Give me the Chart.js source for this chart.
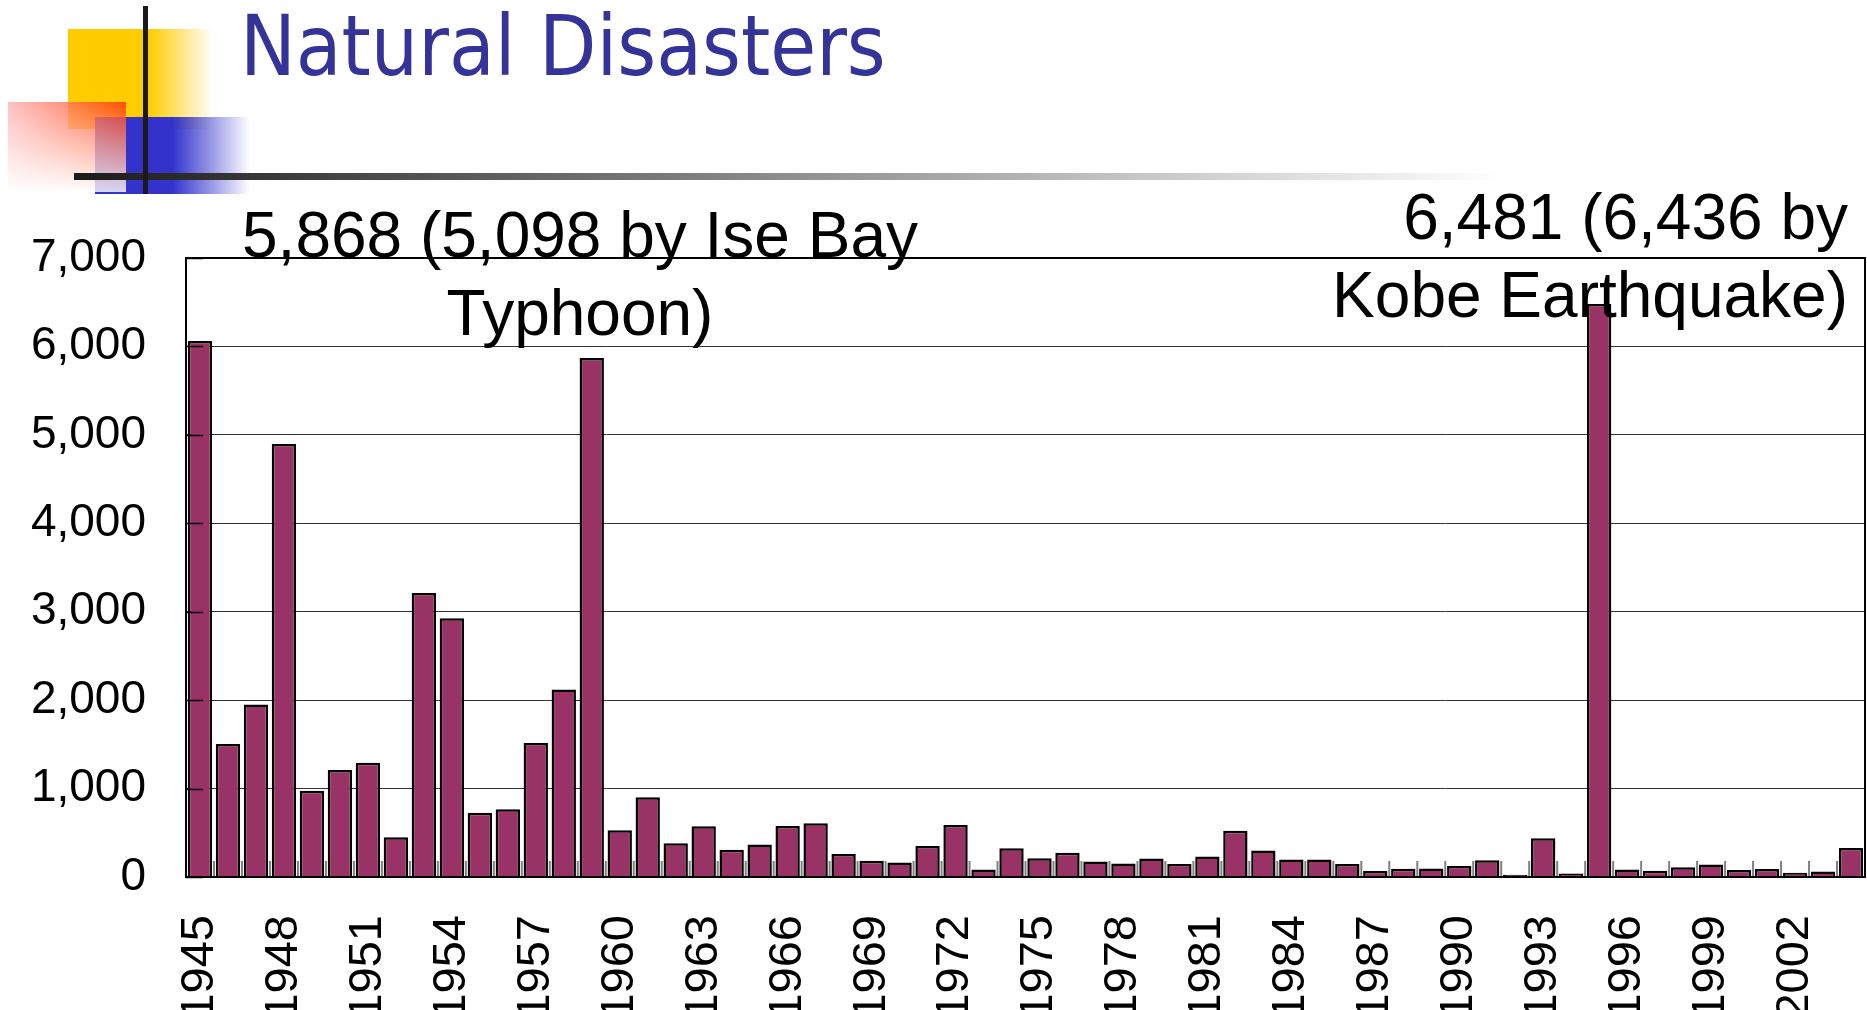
<!DOCTYPE html>
<html>
<head>
<meta charset="utf-8">
<title>Natural Disasters</title>
<script src="https://cdn.jsdelivr.net/npm/chart.js@4.4.1/dist/chart.umd.min.js"></script>
<style>
  html, body { margin: 0; padding: 0; background: #fff; }
  body { width: 1867px; height: 1010px; overflow: hidden; position: relative; }
  #wrap { position: absolute; left: 0; top: 0; width: 1867px; height: 1030px; }
  .deco { position: absolute; }
  #yellow { left: 68px; top: 29px; width: 145px; height: 100px;
    background: linear-gradient(to right, #ffcc00 0%, #ffcc00 56%, rgba(255,204,0,0) 100%); }
  #blue { left: 95px; top: 117px; width: 155px; height: 77px;
    background: linear-gradient(to right, #3333cc 0%, #3333cc 50%, rgba(51,51,204,0) 100%); }
  #red { left: 8px; top: 102px; width: 118px; height: 90px; opacity: 0.8;
    background: linear-gradient(to bottom, rgba(255,255,255,0) 0%, #fff 100%),
                linear-gradient(to right, #ffb4b4 0%, #ff3300 100%); }
  #vline { left: 143px; top: 6px; width: 5px; height: 188px; background: #1a1a1a; }
  #hline { left: 74px; top: 173px; width: 1430px; height: 7px;
    background: linear-gradient(to right, #1a1a1a 0%, #aaaaaa 62%, #ffffff 100%); }
  #title { position: absolute; left: 240px; top: 5px; margin: 0;
    font-family: 'DejaVu Sans Condensed', 'DejaVu Sans', sans-serif; font-stretch: condensed;
    font-weight: normal; font-size: 83px; line-height: 83px; color: #333399; white-space: nowrap; }
  .note { position: absolute; font-family: 'Liberation Sans', Arial, sans-serif;
    font-size: 64px; line-height: 78px; color: #000; white-space: nowrap; }
  #noteLeft { left: 230px; width: 700px; top: 196px; text-align: center; }
  #noteRight { right: 19px; top: 178px; text-align: right; }
</style>
</head>
<body>
<div id="wrap"><canvas id="disasterChart" width="1867" height="1030"></canvas></div>
<div class="deco" id="yellow"></div>
<div class="deco" id="blue"></div>
<div class="deco" id="red"></div>
<div class="deco" id="hline"></div>
<div class="deco" id="vline"></div>
<h1 id="title">Natural Disasters</h1>
<div class="note" id="noteLeft"></div>
<div class="note" id="noteRight"></div>
<script>
'use strict';

// Years on the x axis (one bar per year)
const years = [
    1945, 1946, 1947, 1948, 1949, 1950, 1951, 1952, 1953, 1954,
    1955, 1956, 1957, 1958, 1959, 1960, 1961, 1962, 1963, 1964,
    1965, 1966, 1967, 1968, 1969, 1970, 1971, 1972, 1973, 1974,
    1975, 1976, 1977, 1978, 1979, 1980, 1981, 1982, 1983, 1984,
    1985, 1986, 1987, 1988, 1989, 1990, 1991, 1992, 1993, 1994,
    1995, 1996, 1997, 1998, 1999, 2000, 2001, 2002, 2003, 2004
];

// Dead and missing per year
const deaths = [
    6062, 1504, 1950, 4897, 975, 1210, 1291, 449, 3212, 2926,
    727, 765, 1515, 2120, 5868, 528, 902, 381, 575, 307,
    367, 578, 607, 259, 183, 163, 350, 587, 85, 324,
    213, 273, 174, 153, 208, 148, 232, 524, 301, 199,
    199, 148, 69, 93, 96, 123, 190, 25, 438, 39,
    6481, 84, 71, 109, 141, 78, 90, 48, 62, 327
];

// Only every third year gets a label
const labelledYears = [1945, 1948, 1951, 1954, 1957, 1960, 1963, 1966, 1969, 1972,
    1975, 1978, 1981, 1984, 1987, 1990, 1993, 1996, 1999, 2002];

const yTicks = [0, 1000, 2000, 3000, 4000, 5000, 6000, 7000];

const noteIseBay = ['5,868 (5,098 by Ise Bay', 'Typhoon)'];
const noteKobe = ['6,481 (6,436 by', 'Kobe Earthquake)'];

const FONT = "'Liberation Sans', Arial, sans-serif";

document.getElementById('noteLeft').innerHTML = noteIseBay.join('<br>');
document.getElementById('noteRight').innerHTML = noteKobe.join('<br>');

// frame round the plot, inner ticks on both axes
const framePlugin = {
    id: 'frame',
    beforeDatasetsDraw(chart) {
        const { ctx, chartArea: a, scales: { x } } = chart;
        const half = (x.getPixelForValue(1) - x.getPixelForValue(0)) / 2;
        ctx.save();
        ctx.strokeStyle = '#808080';
        ctx.lineWidth = 2;
        for (let i = 0; i <= years.length; i++) {
            const px = x.getPixelForValue(i) - half;
            ctx.beginPath();
            ctx.moveTo(px, a.bottom);
            ctx.lineTo(px, a.bottom - 16);
            ctx.stroke();
        }
        ctx.restore();
    },
    afterDatasetsDraw(chart) {
        const { ctx, chartArea: a, scales: { y } } = chart;
        ctx.save();
        ctx.strokeStyle = '#000';
        ctx.lineWidth = 1.5;
        yTicks.forEach(v => {
            const py = Math.round(y.getPixelForValue(v)) + 0.5;
            ctx.beginPath();
            ctx.moveTo(a.left, py);
            ctx.lineTo(a.left + 17, py);
            ctx.stroke();
        });
        ctx.lineWidth = 2;
        ctx.strokeRect(a.left, a.top, a.right - a.left, a.bottom - a.top);
        ctx.restore();
    }
};

const canvas = document.getElementById('disasterChart');
new Chart(canvas.getContext('2d'), {
    type: 'bar',
    data: {
        labels: years,
        datasets: [{
            label: 'Dead and missing',
            data: deaths,
            backgroundColor: '#993366',
            borderColor: '#000',
            borderWidth: 2.5,
            barPercentage: 0.87,
            categoryPercentage: 1.0
        }]
    },
    options: {
        responsive: false,
        animation: false,
        devicePixelRatio: 1,
        layout: { padding: { top: 258, right: 2, left: 0, bottom: 0 } },
        plugins: {
            legend: { display: false },
            tooltip: { enabled: false }
        },
        scales: {
            x: {
                grid: { display: false, drawTicks: false },
                border: { display: true, color: '#000', width: 2 },
                ticks: {
                    autoSkip: false,
                    minRotation: 90,
                    maxRotation: 90,
                    padding: 38,
                    color: '#000',
                    font: { family: FONT, size: 47 },
                    callback: function(value) {
                        const yr = years[value];
                        return labelledYears.includes(yr) ? String(yr) : '';
                    }
                },
                afterFit: function(scale) {
                    scale.height = 1030 - 877;
                    scale.paddingLeft = 0;
                    scale.paddingRight = 0;
                }
            },
            y: {
                min: 0,
                max: 7000,
                grid: { color: '#333', lineWidth: 1, drawTicks: false },
                border: { display: true, color: '#000', width: 2 },
                ticks: {
                    stepSize: 1000,
                    padding: 40,
                    color: '#000',
                    font: { family: FONT, size: 46 }
                },
                afterFit: function(scale) {
                    scale.width = 186;
                    scale.paddingTop = 0;
                    scale.paddingBottom = 0;
                }
            }
        }
    },
    plugins: [framePlugin]
});
</script>
</body>
</html>
